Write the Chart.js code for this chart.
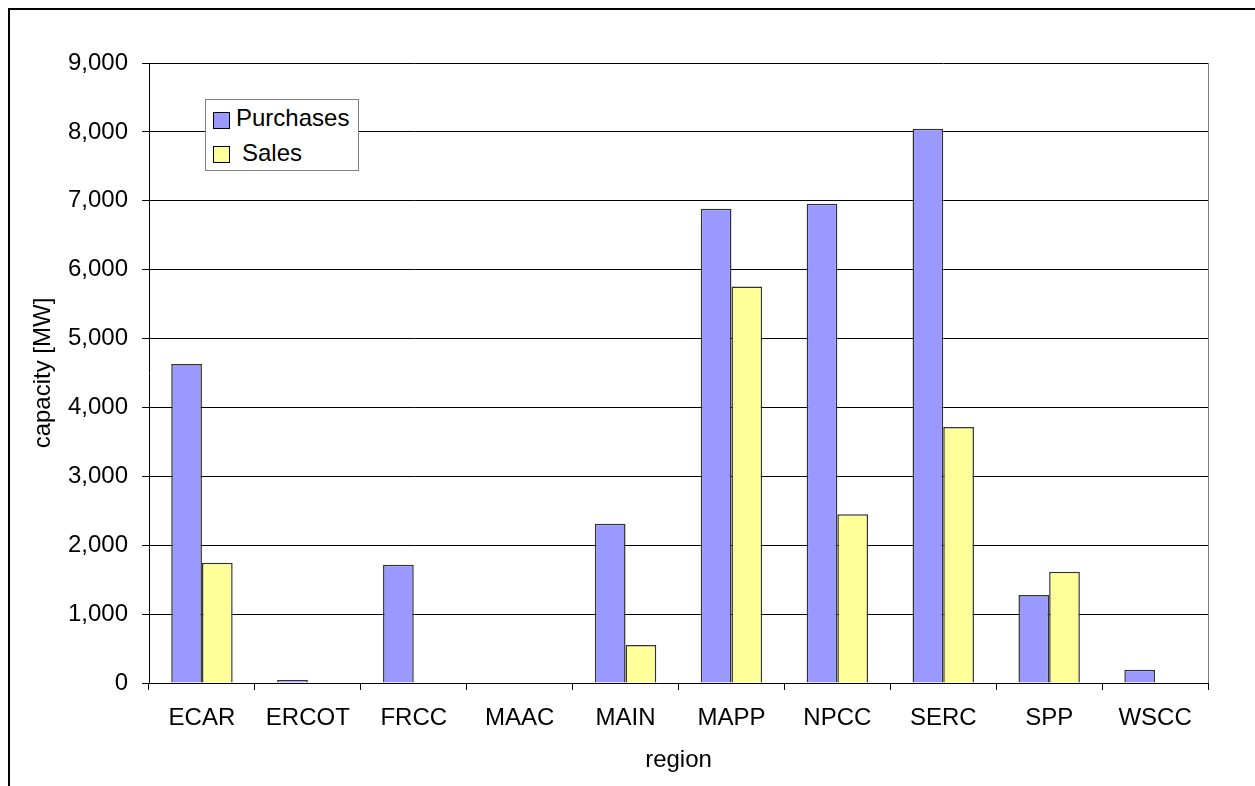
<!DOCTYPE html>
<html>
<head>
<meta charset="utf-8">
<script src="https://cdn.jsdelivr.net/npm/chart.js@4/dist/chart.umd.min.js"></script>
<style>
  html, body { margin: 0; padding: 0; background: #fff; }
  #wrap { position: relative; width: 1255px; height: 786px; overflow: hidden; font-family: 'Liberation Sans', Arial, sans-serif; }
  #frame { position: absolute; left: 8px; top: 8px; width: 1400px; height: 900px; border-left: 2px solid #000; border-top: 2px solid #000; }
  canvas { position: absolute; left: 0; top: 0; }
  #legend { position: absolute; left: 205px; top: 99px; width: 152px; height: 70px; border: 1px solid #808080; background: #fff; }
  .sw { position: absolute; width: 15px; height: 15px; border: 1px solid #000; }
  .lt { position: absolute; font-size: 24px; line-height: 24px; color: #000; white-space: pre; }
</style>
</head>
<body>
<div id="wrap">
  <div id="frame"></div>
  <canvas id="c" width="1255" height="786"></canvas>
  <div id="legend"></div>
</div>
<script>
const categories = ['ECAR', 'ERCOT', 'FRCC', 'MAAC', 'MAIN', 'MAPP', 'NPCC', 'SERC', 'SPP', 'WSCC'];
const purchases = [4630, 45, 1717, 0, 2310, 6884, 6957, 8045, 1277, 193];
const sales = [1746, 0, 0, 0, 550, 5757, 2450, 3716, 1615, 0];
const seriesNames = ['Purchases', ' Sales'];
const yTicks = [0, 1000, 2000, 3000, 4000, 5000, 6000, 7000, 8000, 9000];

const colors = ['#9999FF', '#FFFF99'];

// HTML legend
const leg = document.getElementById('legend');
const rows = [{sw: [7, 12], txt: [30, 6]}, {sw: [7, 46], txt: [36, 41]}];
seriesNames.forEach((name, i) => {
  const s = document.createElement('div');
  s.className = 'sw';
  s.style.left = rows[i].sw[0] + 'px';
  s.style.top = rows[i].sw[1] + 'px';
  s.style.background = colors[i];
  leg.appendChild(s);
  const t = document.createElement('div');
  t.className = 'lt';
  t.style.left = rows[i].txt[0] + 'px';
  t.style.top = rows[i].txt[1] + 'px';
  t.textContent = name.trim();
  leg.appendChild(t);
});

Chart.defaults.font.family = "'Liberation Sans', Arial, sans-serif";
Chart.defaults.font.size = 24;
Chart.defaults.color = '#000';

const plotBorder = {
  id: 'plotBorder',
  afterDraw(chart) {
    const {ctx, chartArea} = chart;
    ctx.save();
    ctx.strokeStyle = '#808080';
    ctx.lineWidth = 1;
    ctx.beginPath();
    ctx.moveTo(Math.round(chartArea.right) + 0.5, chartArea.top);
    ctx.lineTo(Math.round(chartArea.right) + 0.5, chartArea.bottom);
    ctx.stroke();
    ctx.restore();
  }
};

new Chart(document.getElementById('c'), {
  type: 'bar',
  data: {
    labels: categories,
    datasets: [
      { label: seriesNames[0], data: purchases, backgroundColor: colors[0], borderColor: '#333', borderWidth: 1.5, borderSkipped: 'start' },
      { label: seriesNames[1], data: sales, backgroundColor: colors[1], borderColor: '#333', borderWidth: 1.5, borderSkipped: 'start' }
    ]
  },
  options: {
    responsive: false,
    animation: false,
    devicePixelRatio: 1,
    layout: { padding: { left: 0, right: 47, top: 63, bottom: 0 } },
    plugins: { legend: { display: false }, tooltip: { enabled: false } },
    datasets: { bar: { categoryPercentage: 0.58, barPercentage: 1.0 } },
    scales: {
      x: {
        offset: true,
        grid: { offset: true, drawOnChartArea: false, drawTicks: true, tickLength: 7, color: '#000', lineWidth: 1 },
        border: { display: true, color: '#000', width: 1 },
        ticks: { padding: 14, maxRotation: 0, autoSkip: false, font: { size: 24 } },
        title: { display: true, text: 'region', font: { size: 24 }, padding: { top: 0, bottom: 11 } },
        afterFit(scale) { scale.height = 103; }
      },
      y: {
        min: 0, max: 9000,
        afterBuildTicks(scale) { scale.ticks = yTicks.map(v => ({ value: v })); },
        grid: { color: '#000', lineWidth: 1, tickLength: 7, drawTicks: true },
        border: { display: true, color: '#000', width: 1 },
        ticks: { padding: 14, font: { size: 24 }, callback: v => Number(v).toLocaleString('en-US') },
        title: { display: true, text: 'capacity [MW]', font: { size: 24 }, padding: { top: 29, bottom: 0 } },
        afterFit(scale) { scale.width = 149; }
      }
    }
  },
  plugins: [plotBorder]
});
</script>
</body>
</html>
